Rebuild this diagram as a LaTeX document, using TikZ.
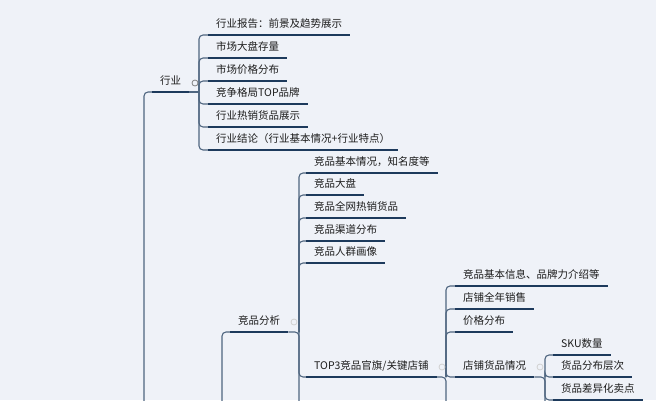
\documentclass[tikz,border=0pt]{standalone}
\usepackage{fontspec}
\usepackage{tikz}
\usetikzlibrary{positioning,calc}
\newfontfamily\cjk{Noto Sans CJK SC}
\definecolor{bgc}{HTML}{EFF2F8}
\definecolor{navy}{HTML}{1D3A5C}
\definecolor{edge}{HTML}{4F6680}
\definecolor{txt}{HTML}{1C1C1C}

\begin{document}
\begin{tikzpicture}[x=1pt, y=-1pt,
  topic/.style={anchor=south west, inner xsep=8pt, inner ysep=7pt, text depth=0pt, text=txt, font=\cjk\fontsize{10.5}{12}\selectfont},
  uline/.style={draw=navy, line width=2.4pt},
  conn/.style={draw=edge, line width=1.1pt, rounded corners=4pt},
  fold/.style={circle, draw=#1, line width=0.8pt, inner sep=0pt, minimum size=6pt}]
\useasboundingbox (0,0) rectangle (656,400);
\clip (0,0) rectangle (656,400);
\fill[bgc] (0,0) rectangle (656,400);

% level 1
\node[topic] (hy) at (152,92)  {行业};
\node[topic] (jp) at (230,332) {竞品分析};
\coordinate (hy-root) at (144,410);
\coordinate (jp-root) at (222,410);

% 行业
\node[topic] (a1) at (208,35)  {行业报告：前景及趋势展示};
\node[topic] (a2) at (208,58)  {市场大盘存量};
\node[topic] (a3) at (208,81)  {市场价格分布};
\node[topic] (a4) at (208,104) {竞争格局TOP品牌};
\node[topic] (a5) at (208,127) {行业热销货品展示};
\node[topic] (a6) at (208,150) {行业结论（行业基本情况+行业特点）};

% 竞品分析
\node[topic] (b1) at (306,173) {竞品基本情况，知名度等};
\node[topic] (b2) at (306,195) {竞品大盘};
\node[topic] (b3) at (306,218) {竞品全网热销货品};
\node[topic] (b4) at (306,241) {竞品渠道分布};
\node[topic] (b5) at (306,263) {竞品人群画像};
\node[topic] (b6) at (306,377) {TOP3竞品官旗/关键店铺};

% TOP3
\node[topic] (c1) at (455,286) {竞品基本信息、品牌力介绍等};
\node[topic] (c2) at (455,309) {店铺全年销售};
\node[topic] (c3) at (455,332) {价格分布};
\node[topic] (c4) at (455,377) {店铺货品情况};

% 店铺货品情况
\node[topic] (d1) at (553,355) {SKU数量};
\node[topic] (d2) at (553,377) {货品分布层次};
\node[topic] (d3) at (553,400) {货品差异化卖点};

% brackets
\coordinate (hy-b) at (199,92);
\coordinate (jp-b) at (299,332);
\coordinate (b6-b) at (446,377);
\coordinate (c4-b) at (545,377);
\coordinate (jp-more) at (299,410);
\coordinate (b6-more) at (446,410);
\coordinate (c4-more) at (545,410);

\draw[conn] (hy.south west) -| (hy-root);
\draw[conn] (jp.south west) -| (jp-root);
\draw[conn] (hy.south east) -- (hy-b);
\draw[conn] (jp.south east) -- (jp-b) -- (jp-more);
\draw[conn] (b6.south east) -- (b6-b) -- (b6-more);
\draw[conn] (c4.south east) -- (c4-b) -- (c4-more);
\foreach \c in {a1,a2,a3,a4,a5,a6}
  \draw[conn] (hy-b) |- (\c.south west);
\foreach \c in {b1,b2,b3,b4,b5,b6}
  \draw[conn] (jp-b) |- (\c.south west);
\foreach \c in {c1,c2,c3,c4}
  \draw[conn] (b6-b) |- (\c.south west);
\foreach \c in {d1,d2,d3}
  \draw[conn] (c4-b) |- (\c.south west);

\foreach \n in {hy,jp,a1,a2,a3,a4,a5,a6,b1,b2,b3,b4,b5,b6,c1,c2,c3,c4,d1,d2,d3}
  \draw[uline] (\n.south west) -- (\n.south east);

% fold buttons
\node[fold=gray] (hy-f) at (195,83) {};
\node[fold=black!18] (jp-f) at (294,322) {};
\node[fold=black!18] (b6-f) at (442,367) {};
\node[fold=black!18] (c4-f) at (540,367) {};
\end{tikzpicture}
\end{document}
